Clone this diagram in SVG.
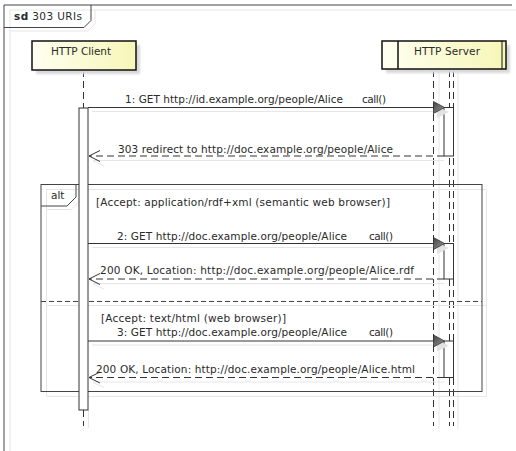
<svg xmlns="http://www.w3.org/2000/svg" width="516" height="451" viewBox="0 0 516 451">
<style>
text{font-family:"DejaVu Sans",Verdana,sans-serif;font-size:10.5px;fill:#2a2a2a}
.frame{fill:none;stroke:#444;stroke-width:1}
.sh{fill:none;stroke:#e6e6e6;stroke-width:1}
.msg{fill:none;stroke:#333;stroke-width:1}
.ret{fill:none;stroke:#333;stroke-width:1;stroke-dasharray:7 4}
.life{fill:none;stroke:#333;stroke-width:1;stroke-dasharray:7 4}
.box{fill:url(#pg);stroke:#111;stroke-width:1.5}
.boxsh{fill:#d8d8d8}
.act{fill:#fff;stroke:#333;stroke-width:1}
.head{fill:url(#hg);stroke:#333;stroke-width:0.8}
.headsh{fill:#e2e2e2}
.open{fill:none;stroke:#333;stroke-width:1}
</style>
<defs>
<linearGradient id="pg" x1="0" y1="0" x2="1" y2="0">
<stop offset="0" stop-color="#fffff2"/>
<stop offset="1" stop-color="#f6f6b8"/>
</linearGradient>
<linearGradient id="hg" x1="0" y1="0" x2="1" y2="1">
<stop offset="0" stop-color="#444"/>
<stop offset="1" stop-color="#999"/>
</linearGradient>
<filter id="bl" x="-10%" y="-10%" width="130%" height="140%"><feGaussianBlur stdDeviation="1.2"/></filter>
</defs>
<rect width="516" height="451" fill="#fff"/>

<g id="frame-sd">
<path class="sh" d="M10,451 L10,10 L516,10"/>
<path class="sh" d="M10,31 L88,31 L95,24 L95,10"/>
<path class="frame" d="M4,451 L4,5 L512,5"/>
<path class="frame" d="M4,27.5 L84,27.5 L91,20.5 L91,5"/>
<text x="14" y="20" textLength="68" lengthAdjust="spacing"><tspan font-weight="bold">sd</tspan> 303 URIs</text>
</g>

<g id="lifelines">
<path class="sh" d="M439,70 L439,429 M458,70 L458,429 M88.5,410 L88.5,428"/>
<path class="life" d="M83.5,70 L83.5,108 M83.5,410 L83.5,426"/>
<path class="life" d="M433.5,70 L433.5,426 M449.5,70 L449.5,426 M453.5,70 L453.5,426"/>
</g>

<g id="client">
<rect class="boxsh" x="36" y="45" width="104" height="29" filter="url(#bl)"/>
<rect class="box" x="32" y="41" width="104" height="29"/>
<text x="51" y="55" textLength="60" lengthAdjust="spacing">HTTP Client</text>
</g>

<g id="server">
<rect class="boxsh" x="386" y="45" width="124" height="28" filter="url(#bl)"/>
<rect class="box" x="382" y="41" width="124" height="28"/>
<path fill="none" stroke="#111" stroke-width="1.5" d="M398,41 L398,69"/>
<path fill="none" stroke="#111" stroke-width="1" d="M502,41 L502,69"/>
<text x="414" y="55" textLength="66" lengthAdjust="spacing">HTTP Server</text>
</g>

<g id="alt">
<path class="sh" d="M46.5,189.5 L486.5,189.5 L486.5,396.5 L46.5,396.5 Z"/>
<path class="sh" d="M46,209.5 L71,209.5 L80,200.5 L80,189.5"/>
<path class="sh" d="M46,305.5 L486,305.5"/>
<rect class="frame" x="41" y="184.5" width="441" height="207"/>
<path class="frame" d="M41,206 L67,206 L76,197 L76,184.5"/>
<path class="frame" d="M41,301.5 L482,301.5" stroke-dasharray="5 3"/>
<text x="51" y="199">alt</text>
<text x="96" y="206" textLength="294" lengthAdjust="spacing">[Accept: application/rdf+xml (semantic web browser)]</text>
<text x="101" y="322" textLength="185" lengthAdjust="spacing">[Accept: text/html (web browser)]</text>
</g>

<g id="activations">
<rect class="act" x="79" y="108" width="9" height="302"/>
<rect class="act" x="444" y="107.5" width="9.5" height="48.5"/>
<rect class="act" x="444" y="243.5" width="9.5" height="35.5"/>
<rect class="act" x="444" y="341" width="9.5" height="36.5"/>
</g>

<g id="connectors">
<path class="sh" d="M92,111.5 L446,111.5"/>
<polygon class="headsh" points="437,107 449,112 437,118"/>
<path class="msg" d="M88,107.5 L434,107.5"/>
<polygon class="head" points="433.5,101.5 444.5,107.5 433.5,113.5"/>
<text x="125" y="102.5" textLength="218" lengthAdjust="spacing">1: GET http://id.example.org/people/Alice</text>
<text x="362" y="102.5" textLength="24" lengthAdjust="spacing">call()</text>

<path class="sh" d="M93,160.5 L444,160.5 M93,161 L104,166"/>
<path class="ret" d="M444,156 L89,156"/>
<path class="open" d="M100,150.5 L89,156 L100,161.5"/>
<text x="118" y="152.5" textLength="275" lengthAdjust="spacing">303 redirect to http://doc.example.org/people/Alice</text>

<path class="sh" d="M92,247.5 L446,247.5"/>
<polygon class="headsh" points="437,243 449,248 437,254"/>
<path class="msg" d="M88,243.5 L434,243.5"/>
<polygon class="head" points="433.5,237.5 444.5,243.5 433.5,249.5"/>
<text x="117" y="240" textLength="230" lengthAdjust="spacing">2: GET http://doc.example.org/people/Alice</text>
<text x="369" y="240" textLength="24" lengthAdjust="spacing">call()</text>

<path class="sh" d="M93,283.5 L444,283.5 M93,284 L104,289"/>
<path class="ret" d="M444,279 L89,279"/>
<path class="open" d="M100,273.5 L89,279 L100,284.5"/>
<text x="100" y="274" textLength="314" lengthAdjust="spacing">200 OK, Location: http://doc.example.org/people/Alice.rdf</text>

<path class="sh" d="M92,345 L446,345"/>
<polygon class="headsh" points="437,340.5 449,345.5 437,351.5"/>
<path class="msg" d="M88,341 L434,341"/>
<polygon class="head" points="433.5,335 444.5,341 433.5,347"/>
<text x="117" y="336" textLength="230" lengthAdjust="spacing">3: GET http://doc.example.org/people/Alice</text>
<text x="369" y="336" textLength="24" lengthAdjust="spacing">call()</text>

<path class="sh" d="M93,382 L444,382 M93,382.5 L104,387.5"/>
<path class="ret" d="M444,377.5 L89,377.5"/>
<path class="open" d="M100,372 L89,377.5 L100,383"/>
<text x="96" y="373" textLength="319" lengthAdjust="spacing">200 OK, Location: http://doc.example.org/people/Alice.html</text>
</g>
</svg>
